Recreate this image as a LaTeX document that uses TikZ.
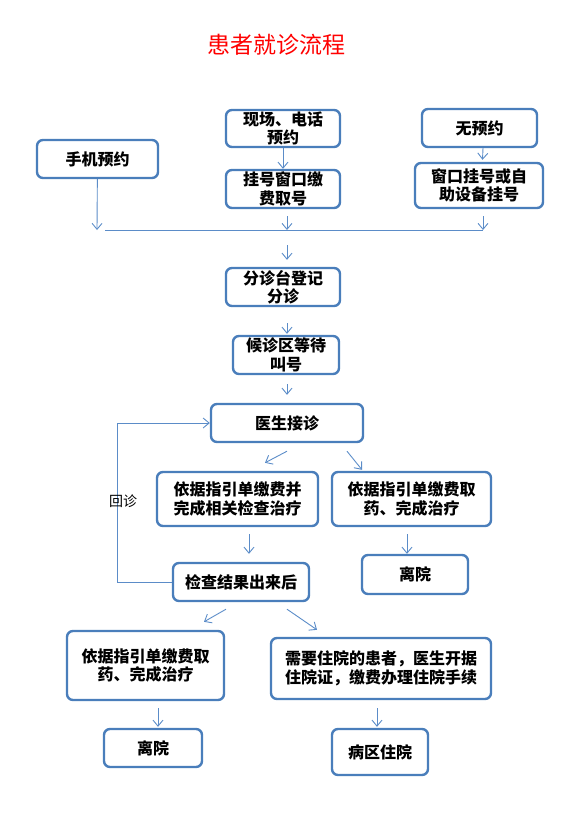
\documentclass[tikz,border=0pt]{standalone}
\usepackage{fontspec}
\setmainfont{Noto Sans CJK SC}
\usepackage{xcolor}
\definecolor{Col1}{RGB}{74,126,187}
\definecolor{Col2}{RGB}{91,140,200}
\usepackage{tikz}
\usetikzlibrary{arrows.meta}
\tikzstyle{Box}=[draw=Col1,line width=2.4pt,rounded corners=6pt,fill=white,
align=center,inner sep=0pt,font=\bfseries\fontsize{16}{18.5}\selectfont]
\tikzstyle{Edge}=[draw=Col2,line width=0.9pt]
\tikzstyle{Arrow}=[Edge,-{Straight Barb[length=6pt,width=10pt]}]
\tikzstyle{Title}=[text=red,font=\fontsize{23}{26}\selectfont]
\tikzstyle{Label}=[font=\fontsize{14}{16}\selectfont]

\begin{document}
\begin{tikzpicture}[x=1pt,y=1pt]
        \useasboundingbox(0,0)rectangle(567,-817);
        \node[Title](title)at(276,-45){患者就诊流程};
        % registration
        \node[Box,minimum width=121pt,minimum height=38pt](phone)at(97.5,-159){手机预约};
        \node[Box,minimum width=114pt,minimum height=37pt](site)at(283,-128.5){现场、电话\\预约};
        \node[Box,minimum width=114pt,minimum height=38pt](reg)at(283,-189){挂号窗口缴\\费取号};
        \node[Box,minimum width=115pt,minimum height=38pt](none)at(479.5,-128){无预约};
        \node[Box,minimum width=128pt,minimum height=45pt](self)at(479,-185.5){窗口挂号或自\\助设备挂号};
        \coordinate(p1)at(97,-230);
        \coordinate(p2)at(287,-230);
        \coordinate(p3)at(483,-230);
        \coordinate(h1)at(105,-230);
        \coordinate(p4)at(287,-245);
        \draw[Arrow](site)--(reg);
        \draw[Arrow]([xshift=3.5pt]none.south)--([xshift=3.5pt,yshift=2pt]self.north);
        \draw[Arrow](phone)--(p1);
        \draw[Arrow]([xshift=4pt,yshift=-7pt]reg.south)--(p2);
        \draw[Arrow]([xshift=4pt,yshift=-7pt]self.south)--(p3);
        \draw[Edge](h1)--(p3);
        % consultation
        \node[Box,minimum width=114pt,minimum height=38pt](triage)at(283,-287){分诊台登记\\分诊};
        \node[Box,minimum width=106pt,minimum height=38pt](wait)at(286,-355){候诊区等待\\叫号};
        \node[Box,minimum width=152pt,minimum height=38pt](doctor)at(287,-423){医生接诊};
        \draw[Arrow](p4)--([xshift=4pt,yshift=7pt]triage.north);
        \draw[Arrow]([xshift=4pt,yshift=-16pt]triage.south)--([xshift=1pt,yshift=1pt]wait.north);
        \draw[Arrow]([xshift=1pt,yshift=-9pt]wait.south)--([yshift=8pt]doctor.north);
        \node[Box,minimum width=161pt,minimum height=54pt](exam)at(237.5,-499){依据指引单缴费并\\完成相关检查治疗};
        \node[Box,minimum width=159pt,minimum height=54pt](drug1)at(411.5,-499){依据指引单缴费取\\药、完成治疗};
        \node[Box,minimum width=136pt,minimum height=38pt](result)at(241,-582){检查结果出来后};
        \node[Box,minimum width=106pt,minimum height=39pt](leave1)at(415,-574.5){离院};
        \draw[Arrow]([yshift=-8pt]doctor.south)--([xshift=27.5pt,yshift=8pt]exam.north);
        \draw[Arrow]([xshift=60pt,yshift=-8pt]doctor.south)--([xshift=-49.5pt,yshift=1pt]drug1.north);
        \draw[Arrow]([xshift=11.5pt,yshift=-7pt]exam.south)--([xshift=8pt,yshift=8pt]result.north);
        \draw[Arrow]([xshift=-4.5pt,yshift=-7pt]drug1.south)--([xshift=-8pt]leave1.north);
        % return visit
        \coordinate(back)at(117,-582);
        \draw[Arrow](result.west)--(back)|-(doctor.west);
        \node[Label](rv)at(123,-501){回诊};
        % after results
        \node[Box,minimum width=157pt,minimum height=69pt](drug2)at(145.5,-665.5){依据指引单缴费取\\药、完成治疗};
        \node[Box,minimum width=220pt,minimum height=61pt](admit)at(381,-668.5){需要住院的患者，医生开据\\住院证，缴费办理住院手续};
        \node[Box,minimum width=98pt,minimum height=38pt](leave2)at(153,-748){离院};
        \node[Box,minimum width=96pt,minimum height=46pt](ward)at(380,-752){病区住院};
        \draw[Arrow]([xshift=-15pt,yshift=-7pt]result.south)--([xshift=58.5pt,yshift=8pt]drug2.north);
        \draw[Arrow]([xshift=46pt,yshift=-7pt]result.south)--([xshift=-64pt,yshift=7pt]admit.north);
        \draw[Arrow]([xshift=12.5pt,yshift=-7pt]drug2.south)--([xshift=5pt,yshift=1pt]leave2.north);
        \draw[Arrow]([xshift=-4pt,yshift=-8pt]admit.south)--([xshift=-3pt,yshift=1pt]ward.north);
    \end{tikzpicture}
\end{document}
